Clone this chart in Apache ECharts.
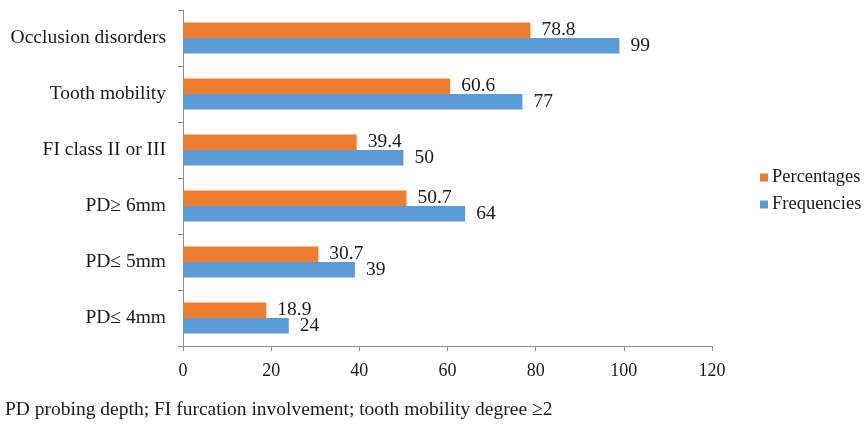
<!DOCTYPE html>
<html>
<head>
<meta charset="utf-8">
<script src="https://cdn.jsdelivr.net/npm/echarts@6/dist/echarts.min.js"></script>
<style>
  html, body { margin: 0; padding: 0; background: #fff; }
  #chart { width: 867px; height: 427px; }
</style>
</head>
<body>
<div id="chart"></div>
<script>
// Periodontal findings, listed top to bottom
const categories = ['Occlusion disorders', 'Tooth mobility', 'FI class II or III', 'PD\u2265 6mm', 'PD\u2264 5mm', 'PD\u2264 4mm'];
const percentages = [78.8, 60.6, 39.4, 50.7, 30.7, 18.9];
const frequencies = [99, 77, 50, 64, 39, 24];
const xTicks = { min: 0, max: 120, interval: 20 };
const footnote = 'PD probing depth; FI furcation involvement; tooth mobility degree \u22652';

const FONT = 'Liberation Serif';
const TEXT = '#1a1a1a';
const AXIS = '#8c8c8c';

const chart = echarts.init(document.getElementById('chart'));

const valueLabel = {
  show: true,
  position: 'right',
  distance: 11,
  color: TEXT,
  fontFamily: FONT,
  fontSize: 19.5
};

chart.setOption({
  animation: false,
  backgroundColor: '#fff',
  grid: { left: 183, right: 155, top: 10, bottom: 81, containLabel: false },
  xAxis: {
    type: 'value',
    min: xTicks.min,
    max: xTicks.max,
    interval: xTicks.interval,
    axisLine: { show: true, lineStyle: { color: AXIS, width: 1 } },
    axisTick: { show: true, length: 5, lineStyle: { color: AXIS } },
    splitLine: { show: false },
    axisLabel: { color: TEXT, fontFamily: FONT, fontSize: 18, margin: 16 }
  },
  yAxis: {
    type: 'category',
    data: categories,
    inverse: true,
    axisLine: { show: true, lineStyle: { color: AXIS, width: 1 } },
    axisTick: { show: true, length: 5, lineStyle: { color: AXIS } },
    axisLabel: { color: TEXT, fontFamily: FONT, fontSize: 19.5, margin: 17 }
  },
  legend: {
    orient: 'vertical',
    left: 755,
    top: 163,
    itemWidth: 8,
    itemHeight: 8,
    itemGap: 8,
    icon: 'rect',
    data: ['Percentages', 'Frequencies'],
    textStyle: { color: TEXT, fontFamily: FONT, fontSize: 18.5, lineHeight: 19, padding: [0, 0, 0, -1] }
  },
  series: [
    {
      name: 'Percentages',
      type: 'bar',
      data: percentages,
      barGap: '0%',
      barCategoryGap: '45%',
      itemStyle: { color: '#ed7d31' },
      label: valueLabel
    },
    {
      name: 'Frequencies',
      type: 'bar',
      data: frequencies,
      barGap: '0%',
      barCategoryGap: '45%',
      itemStyle: { color: '#5b9bd5' },
      label: valueLabel
    }
  ],
  graphic: [
    {
      type: 'text',
      left: 5,
      top: 400,
      style: { text: footnote, fill: TEXT, font: '19.5px "Liberation Serif"' }
    }
  ]
});
</script>
</body>
</html>
